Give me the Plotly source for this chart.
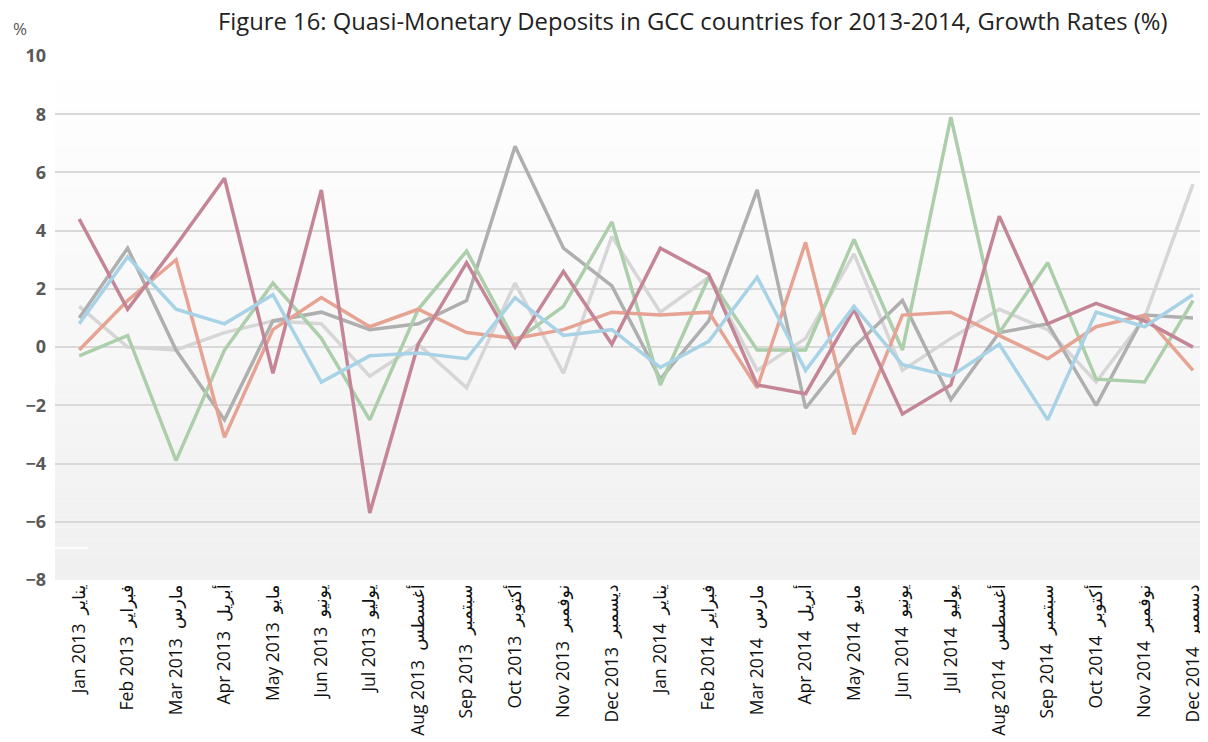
import plotly.graph_objects as go

# meses (inglês + árabe)
months_en = ["Jan", "Feb", "Mar", "Apr", "May", "Jun", "Jul", "Aug", "Sep", "Oct", "Nov", "Dec"]
months_ar = ["يناير", "فبراير", "مارس", "أبريل", "مايو", "يونيو", "يوليو", "أغسطس", "سبتمبر", "أكتوبر", "نوفمبر", "ديسمبر"]
years = [2013, 2014]
gap = "\u00a0 "
labels = [f"{m} {y}{gap}{a}" for y in years for m, a in zip(months_en, months_ar)]

series_mauve = [4.4, 1.3, 3.5, 5.8, -0.9, 5.4, -5.7, 0.1, 2.9, 0.0, 2.6, 0.1,
                3.4, 2.5, -1.3, -1.6, 1.3, -2.3, -1.3, 4.5, 0.8, 1.5, 0.9, 0.0]
series_salmon = [-0.1, 1.6, 3.0, -3.1, 0.6, 1.7, 0.7, 1.3, 0.5, 0.3, 0.6, 1.2,
                 1.1, 1.2, -1.4, 3.6, -3.0, 1.1, 1.2, 0.4, -0.4, 0.7, 1.1, -0.8]
series_gray = [1.0, 3.4, -0.1, -2.5, 0.9, 1.2, 0.6, 0.8, 1.6, 6.9, 3.4, 2.1,
               -1.1, 0.9, 5.4, -2.1, 0.0, 1.6, -1.8, 0.5, 0.8, -2.0, 1.1, 1.0]
series_lightgray = [1.4, 0.0, -0.1, 0.5, 0.9, 0.8, -1.0, 0.1, -1.4, 2.2, -0.9, 3.8,
                    1.2, 2.4, -0.8, 0.3, 3.2, -0.8, 0.3, 1.3, 0.6, -1.2, 1.0, 5.6]
series_green = [-0.3, 0.4, -3.9, -0.1, 2.2, 0.3, -2.5, 1.3, 3.3, 0.2, 1.4, 4.3,
                -1.3, 2.4, -0.1, -0.1, 3.7, -0.1, 7.9, 0.5, 2.9, -1.1, -1.2, 1.6]
series_blue = [0.8, 3.1, 1.3, 0.8, 1.8, -1.2, -0.3, -0.2, -0.4, 1.7, 0.4, 0.6,
               -0.7, 0.2, 2.4, -0.8, 1.4, -0.6, -1.0, 0.1, -2.5, 1.2, 0.7, 1.8]

series = [
    ("Série 1", series_lightgray, "#d6d6d6"),
    ("Série 2", series_gray, "#afafaf"),
    ("Série 3", series_green, "#acceaa"),
    ("Série 4", series_salmon, "#e6a393"),
    ("Série 5", series_mauve, "#c48696"),
    ("Série 6", series_blue, "#a8d3e6"),
]

fig = go.Figure()
for nome, vals, cor in series:
    fig.add_trace(go.Scatter(x=labels, y=vals, mode="lines", name=nome,
                             line=dict(color=cor, width=3.5)))

# fundo em degradê (branco -> cinza claro)
n = 40
shapes = []
for i in range(n):
    t = i / (n - 1)
    c = int(round(255 - t * 15))
    shapes.append(dict(type="rect", xref="paper", yref="paper", layer="below",
                       x0=0, x1=1, y0=1 - (i + 1) / n, y1=1 - i / n,
                       fillcolor=f"rgb({c},{c},{c})", line=dict(width=0)))
shapes.append(dict(type="line", xref="paper", yref="y", x0=0, x1=0.029, y0=-6.9, y1=-6.9,
                   line=dict(color="white", width=1.5)))

titulo = "Figure 16: Quasi-Monetary Deposits in GCC countries for 2013-2014, Growth Rates (%)"

# a página tem margem de 8px no body, por isso 1200x734
fig.update_layout(
    width=1200, height=734,
    margin=dict(l=47, r=0, t=48, b=161.5, autoexpand=False),
    paper_bgcolor="white",
    plot_bgcolor="rgba(0,0,0,0)",
    showlegend=False,
    shapes=shapes,
    annotations=[
        dict(text=titulo, xref="paper", yref="paper", x=0.5533, y=1.0667,
             xanchor="center", yanchor="middle", showarrow=False,
             font=dict(family="Open Sans", size=23.8, color="#222222")),
        dict(text="%", xref="paper", yref="paper", x=-0.0304, y=1.053,
             xanchor="center", yanchor="middle", showarrow=False,
             font=dict(family="Open Sans", size=17, color="#595959")),
    ],
    xaxis=dict(range=[-0.5, 23.31], tickangle=-90, showgrid=False, zeroline=False,
               showline=False, ticks="", automargin=False,
               tickfont=dict(family="Open Sans, DejaVu Sans", size=17.5, color="#111111")),
    yaxis=dict(range=[-8, 10], dtick=2, showgrid=True, gridcolor="#d9d9d9", gridwidth=1.5,
               zeroline=False, showline=False, ticks="", ticklabelstandoff=8, automargin=False,
               tickfont=dict(family="Open Sans", size=18, color="#595959", weight="bold")),
)

fig.write_html("out.html")
